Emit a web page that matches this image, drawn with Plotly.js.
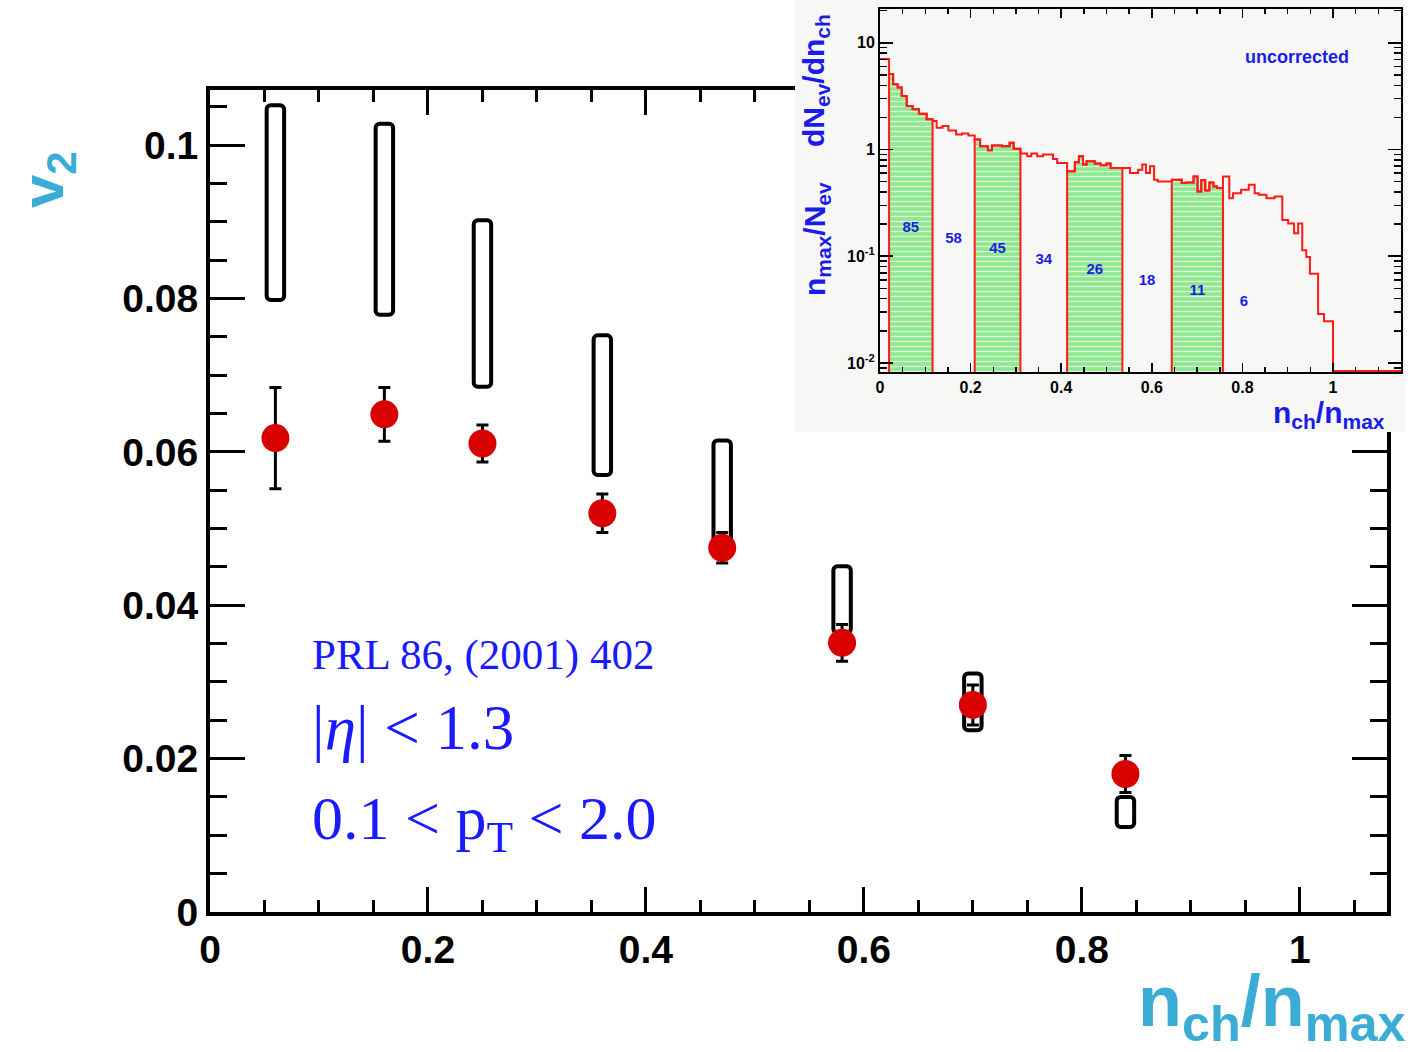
<!DOCTYPE html>
<html>
<head>
<meta charset="utf-8">
<script src="https://cdn.plot.ly/plotly-3.0.1.min.js"></script>
<style>
  html, body { margin: 0; padding: 0; background: #ffffff; }
  #chart { width: 1415px; height: 1052px; }
</style>
</head>
<body>
<div id="chart"></div>
<script>
// ---- elliptic flow v2 versus normalized multiplicity ----
const nchFrac = [0.06, 0.16, 0.25, 0.36, 0.47, 0.58, 0.70, 0.84];
const v2 = [0.0618, 0.0649, 0.0611, 0.0520, 0.0475, 0.0351, 0.0270, 0.0180];
const v2Err = [0.0066, 0.0035, 0.0024, 0.0025, 0.0020, 0.0024, 0.0026, 0.0024];
const sysLow = [0.0798, 0.0779, 0.0685, 0.0570, 0.0470, 0.0364, 0.0237, 0.0111];
const sysHigh = [0.1052, 0.1028, 0.0902, 0.0752, 0.0615, 0.0451, 0.0311, 0.0150];

// ---- inset: uncorrected multiplicity distribution ----
const binEdges = [
  0.000, 0.020, 0.029, 0.039, 0.048, 0.059, 0.072, 0.086, 0.103, 0.116,
  0.125, 0.138, 0.151, 0.168, 0.181, 0.195, 0.209, 0.221, 0.238, 0.247,
  0.269, 0.286, 0.295, 0.310, 0.325, 0.334, 0.347, 0.360, 0.382, 0.391,
  0.413, 0.430, 0.439, 0.448, 0.456, 0.474, 0.487, 0.500, 0.509, 0.535,
  0.552, 0.570, 0.579, 0.587, 0.596, 0.605, 0.613, 0.644, 0.666, 0.675,
  0.692, 0.701, 0.709, 0.718, 0.727, 0.736, 0.744, 0.757, 0.771, 0.779,
  0.797, 0.814, 0.827, 0.836, 0.853, 0.871, 0.888, 0.901, 0.914, 0.923,
  0.932, 0.941, 0.949, 0.958, 0.967, 0.980, 1.000
];
const binValues = [
  7.06, 5.10, 4.10, 3.82, 3.18, 2.56, 2.39, 2.17, 1.92, 1.85,
  1.60, 1.66, 1.51, 1.385, 1.415, 1.355, 1.24, 1.075, 0.985, 1.09,
  1.075, 1.155, 1.015, 0.917, 0.865, 0.917, 0.865, 0.897, 0.816, 0.748,
  0.625, 0.76, 0.865, 0.722, 0.776, 0.738, 0.711, 0.738, 0.671, 0.671,
  0.602, 0.648, 0.722, 0.602, 0.696, 0.521, 0.502, 0.521, 0.485, 0.491,
  0.56, 0.405, 0.514, 0.414, 0.491, 0.451, 0.435, 0.56, 0.35, 0.39,
  0.42, 0.468, 0.39, 0.376, 0.35, 0.363, 0.219, 0.203, 0.164, 0.203,
  0.114, 0.0986, 0.0686, 0.0686, 0.0288, 0.0246
];
// centrality class boundaries (fraction of n_max) and their labels
const classEdges = [0.020, 0.116, 0.209, 0.310, 0.413, 0.535, 0.644, 0.757, 0.850];
const classLabels = ['85', '58', '45', '34', '26', '18', '11', '6'];
const classLabelY = [0.183, 0.144, 0.116, 0.092, 0.074, 0.058, 0.047, 0.037];

// ---- styling ----
const W = 1415, H = 1052;
const CYAN = '#3aacd6';
const BLUE = '#1a1aff';
const INSET_BLUE = '#1c1ce8';
const INSET_BG = '#f7f8f5';
const SANS = 'Liberation Sans, Arial, Helvetica, sans-serif';
const SERIF = 'Liberation Serif, Times New Roman, serif';
const px = v => v / W;          // pixel column -> paper x
const py = v => 1 - v / H;      // pixel row -> paper y

const mainX = [0, 1.08];
const mainY = [0, 0.1072];
const insetX = [0, 1.15];
const insetLogY = [-2.085, 1.317];
const insetFloor = Math.pow(10, insetLogY[0]);

const traces = [];

// systematic-uncertainty boxes
traces.push({
  type: 'bar', xaxis: 'x', yaxis: 'y',
  x: nchFrac,
  base: sysLow,
  y: sysHigh.map((h, i) => h - sysLow[i]),
  width: 0.016,
  marker: { color: 'rgba(0,0,0,0)', line: { color: '#000', width: 4 }, cornerradius: 4 },
  hoverinfo: 'skip'
});

// v2 points with statistical errors
traces.push({
  type: 'scatter', mode: 'markers', xaxis: 'x', yaxis: 'y',
  x: nchFrac, y: v2,
  error_y: { type: 'data', array: v2Err, color: '#000', thickness: 3, width: 6 },
  marker: { color: '#d90000', size: 28, line: { width: 0 } },
  cliponaxis: false
});

// empty trace so the inset's backdrop subplot exists
traces.push({ type: 'scatter', mode: 'markers', x: [], y: [], xaxis: 'x2', yaxis: 'y2' });

// shaded centrality classes (every other class)
for (let c = 0; c < classEdges.length - 1; c += 2) {
  const lo = classEdges[c], hi = classEdges[c + 1];
  const xs = [lo], ys = [insetFloor / 10];
  for (let i = 0; i < binValues.length; i++) {
    const a = binEdges[i], b = binEdges[i + 1];
    if (a >= lo - 1e-9 && b <= hi + 1e-9) {
      xs.push(a, b); ys.push(binValues[i], binValues[i]);
    }
  }
  xs.push(hi, lo); ys.push(insetFloor / 10, insetFloor / 10);
  traces.push({
    type: 'scatter', mode: 'lines', xaxis: 'x3', yaxis: 'y3',
    x: xs, y: ys, fill: 'toself',
    fillcolor: '#8fe88f',
    fillpattern: { shape: '-', bgcolor: '#8fe88f', fgcolor: '#e4fae4', fgopacity: 0.9, size: 5, solidity: 0.25 },
    line: { color: '#ff1a1a', width: 2 },
    hoverinfo: 'skip'
  });
}

// histogram outline
traces.push({
  type: 'scatter', mode: 'lines', xaxis: 'x3', yaxis: 'y3',
  x: binEdges.concat([insetX[1]]),
  y: binValues.concat([insetFloor * 1.02, insetFloor * 1.02]),
  line: { color: '#ff1a1a', width: 2, shape: 'hv' },
  hoverinfo: 'skip'
});

// class labels
traces.push({
  type: 'scatter', mode: 'text', xaxis: 'x3', yaxis: 'y3',
  x: classLabels.map((_, i) => (classEdges[i] + classEdges[i + 1]) / 2),
  y: classLabelY,
  text: classLabels,
  textfont: { family: SANS, size: 15, color: INSET_BLUE, weight: 'bold' },
  hoverinfo: 'skip'
});

const mainTick = { family: SANS, size: 39, color: '#000', weight: 'bold' };
const insetTick = { family: SANS, size: 16, color: '#000', weight: 'bold' };

const layout = {
  width: W, height: H,
  margin: { l: 0, r: 0, t: 0, b: 0 },
  paper_bgcolor: '#ffffff',
  plot_bgcolor: INSET_BG,
  showlegend: false,
  barmode: 'overlay',
  font: { family: SANS, color: '#000' },
  xaxis: {
    domain: [px(210), px(1387)], range: mainX, anchor: 'y',
    showline: true, linewidth: 4, linecolor: '#000', mirror: 'allticks',
    ticks: 'inside', ticklen: 25, tickwidth: 3, tickcolor: '#000',
    tick0: 0, dtick: 0.2,
    minor: { dtick: 0.05, ticks: 'inside', ticklen: 12, tickwidth: 3, tickcolor: '#000' },
    showgrid: false, zeroline: false, tickfont: mainTick
  },
  yaxis: {
    domain: [py(912), py(90)], range: mainY, anchor: 'x',
    showline: true, linewidth: 4, linecolor: '#000', mirror: 'allticks',
    ticks: 'inside', ticklen: 35, tickwidth: 3, tickcolor: '#000',
    tick0: 0, dtick: 0.02,
    minor: { dtick: 0.005, ticks: 'inside', ticklen: 17, tickwidth: 3, tickcolor: '#000' },
    showgrid: false, zeroline: false, tickfont: mainTick
  },
  xaxis2: { domain: [px(795), px(1405)], range: [0, 1], anchor: 'y2', visible: false },
  yaxis2: { domain: [py(432), 1], range: [0, 1], anchor: 'x2', visible: false },
  xaxis3: {
    domain: [px(880), px(1401)], range: insetX, anchor: 'y3',
    showline: true, linewidth: 2, linecolor: '#000', mirror: 'allticks',
    ticks: 'inside', ticklen: 9, tickwidth: 1.5, tickcolor: '#000',
    tick0: 0, dtick: 0.2,
    minor: { dtick: 0.05, ticks: 'inside', ticklen: 5, tickwidth: 1.5, tickcolor: '#000' },
    showgrid: false, zeroline: false, tickfont: insetTick
  },
  yaxis3: {
    type: 'log', domain: [py(372), py(9)], range: insetLogY, anchor: 'x3',
    showline: true, linewidth: 2, linecolor: '#000', mirror: 'allticks',
    ticks: 'inside', ticklen: 13, tickwidth: 1.5, tickcolor: '#000',
    tickmode: 'array', tickvals: [0.01, 0.1, 1, 10],
    ticktext: ['10<sup>-2</sup>', '10<sup>-1</sup>', '1', '10'],
    minor: { dtick: 'D1', ticks: 'inside', ticklen: 7, tickwidth: 1.5, tickcolor: '#000' },
    showgrid: false, zeroline: false, tickfont: insetTick
  },
  shapes: [
    // white plotting area for the main panel
    { type: 'rect', xref: 'x', yref: 'y', layer: 'below',
      x0: mainX[0], x1: mainX[1], y0: mainY[0], y1: mainY[1],
      fillcolor: '#ffffff', line: { width: 0 } }
  ],
  annotations: [
    { text: 'v<sub>2</sub>', xref: 'paper', yref: 'paper', x: px(47), y: py(180),
      xanchor: 'center', yanchor: 'middle', textangle: -90, showarrow: false,
      font: { family: SANS, size: 60, color: CYAN, weight: 'bold' } },
    { text: 'n<sub>ch</sub>/n<sub>max</sub>', xref: 'paper', yref: 'paper', x: px(1408), y: py(1006),
      xanchor: 'right', yanchor: 'middle', showarrow: false,
      font: { family: SANS, size: 72, color: CYAN, weight: 'bold' } },
    { text: 'PRL 86, (2001) 402', xref: 'paper', yref: 'paper', x: px(310), y: py(655),
      xanchor: 'left', yanchor: 'middle', showarrow: false,
      font: { family: SERIF, size: 43, color: BLUE } },
    { text: '|<i>η</i>| &lt; 1.3', xref: 'paper', yref: 'paper', x: px(310), y: py(728),
      xanchor: 'left', yanchor: 'middle', showarrow: false,
      font: { family: SERIF, size: 63, color: BLUE } },
    { text: '0.1 &lt; p<sub>T</sub> &lt; 2.0', xref: 'paper', yref: 'paper', x: px(310), y: py(822),
      xanchor: 'left', yanchor: 'middle', showarrow: false,
      font: { family: SERIF, size: 62, color: BLUE } },
    { text: 'n<sub>max</sub>/N<sub>ev</sub>', xref: 'paper', yref: 'paper', x: px(816), y: py(239),
      xanchor: 'center', yanchor: 'middle', textangle: -90, showarrow: false,
      font: { family: SANS, size: 30, color: INSET_BLUE, weight: 'bold' } },
    { text: 'dN<sub>ev</sub>/dn<sub>ch</sub>', xref: 'paper', yref: 'paper', x: px(816), y: py(80),
      xanchor: 'center', yanchor: 'middle', textangle: -90, showarrow: false,
      font: { family: SANS, size: 30, color: INSET_BLUE, weight: 'bold' } },
    { text: 'n<sub>ch</sub>/n<sub>max</sub>', xref: 'paper', yref: 'paper', x: px(1387), y: py(414),
      xanchor: 'right', yanchor: 'middle', showarrow: false,
      font: { family: SANS, size: 30, color: INSET_BLUE, weight: 'bold' } },
    { text: 'uncorrected', xref: 'paper', yref: 'paper', x: px(1297), y: py(57),
      xanchor: 'center', yanchor: 'middle', showarrow: false,
      font: { family: SANS, size: 18, color: INSET_BLUE, weight: 'bold' } }
  ]
};

Plotly.newPlot('chart', traces, layout, { staticPlot: true, displayModeBar: false });
</script>
</body>
</html>
